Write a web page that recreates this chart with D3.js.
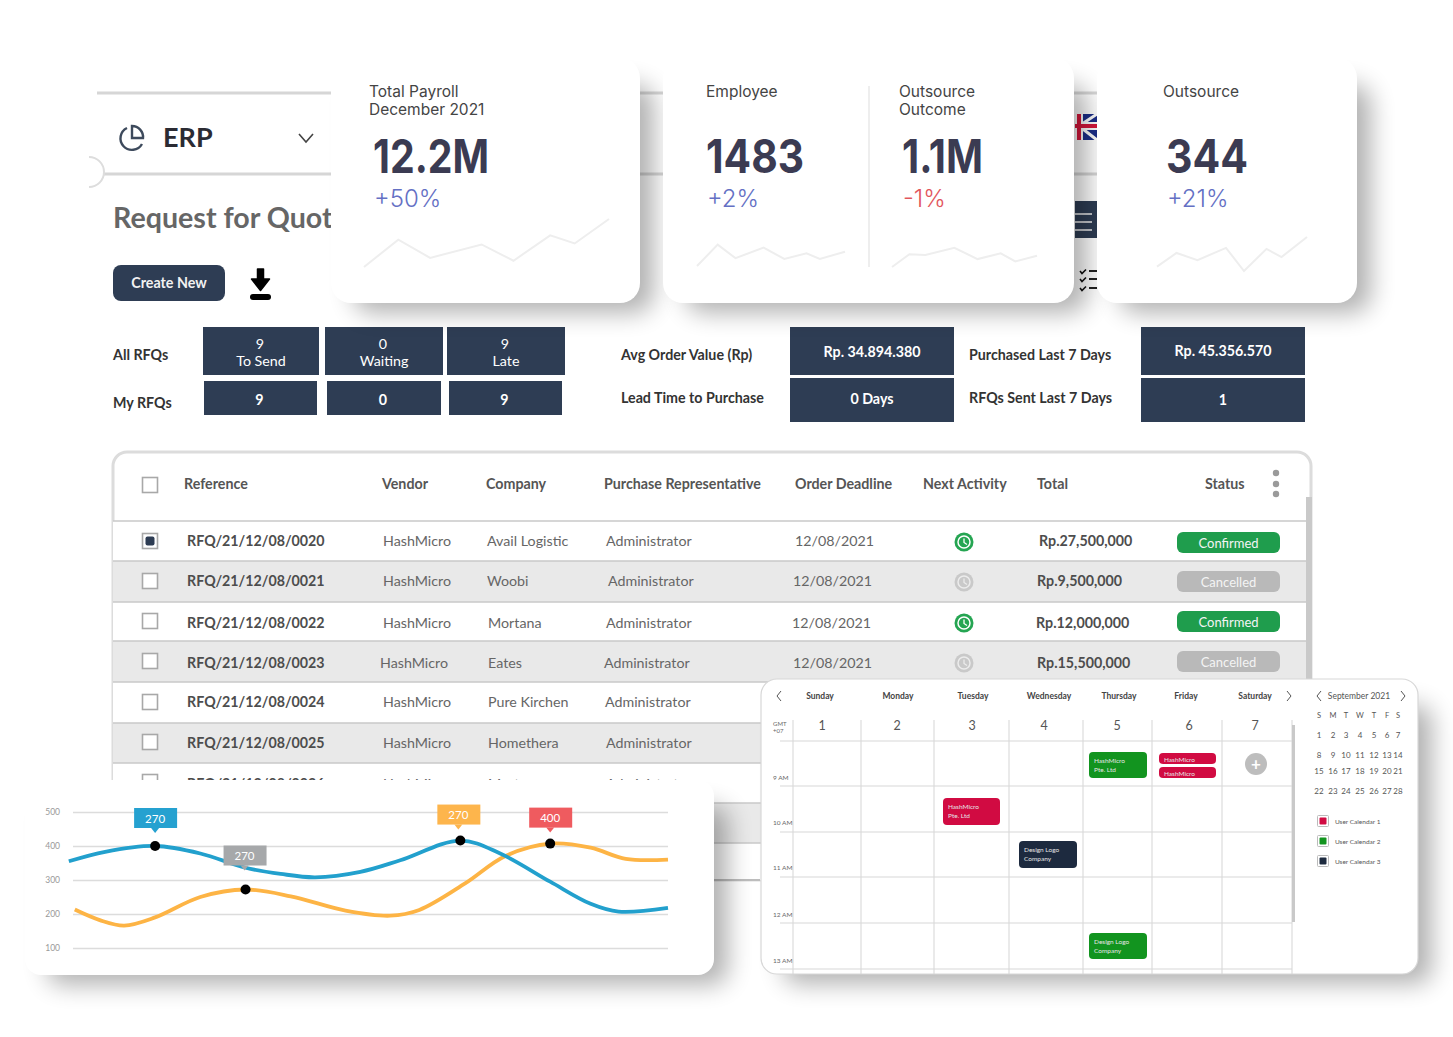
<!DOCTYPE html>
<html><head><meta charset="utf-8">
<script src="https://cdn.jsdelivr.net/npm/d3@7"></script>
<style>html,body{margin:0;padding:0;background:#fff;overflow:hidden}svg{display:block}text{font-family:Lato,sans-serif}.m{font-family:Inter,sans-serif}</style>
</head><body><svg id="c" width="1453" height="1037"></svg>
<script>
// ---------- data ----------
const tableHeaders = ["Reference","Vendor","Company","Purchase Representative","Order Deadline","Next Activity","Total","Status"];
const references = ["RFQ/21/12/08/0020","RFQ/21/12/08/0021","RFQ/21/12/08/0022","RFQ/21/12/08/0023","RFQ/21/12/08/0024","RFQ/21/12/08/0025","RFQ/21/12/08/0026"];
const vendors = ["HashMicro","HashMicro","HashMicro","HashMicro","HashMicro","HashMicro","HashMicro"];
const companies = ["Avail Logistic","Woobi","Mortana","Eates","Pure Kirchen","Homethera","Mortana"];
const reps = ["Administrator","Administrator","Administrator","Administrator","Administrator","Administrator","Administrator"];
const deadlines = ["12/08/2021","12/08/2021","12/08/2021","12/08/2021"];
const totals = ["Rp.27,500,000","Rp.9,500,000","Rp.12,000,000","Rp.15,500,000"];
const statuses = ["Confirmed","Cancelled","Confirmed","Cancelled"];

const yTicks = [100,200,300,400,500];
const blueX = [-0.7,5.4,13.8,21.4,29,34.9,40.7,48.3,55,65.1,71.8,80.2,87,91.7,100];
const blueV = [355,383,400,378,336,318,308,324,358,416,378,295,230,207,218];
const orangeX = [0.3,4.5,8.6,13.8,21.4,29,36.6,45.8,53.3,58.2,65.9,72.6,80.2,87,92.9,100];
const orangeV = [213,182,166,190,250,272,252,210,195,212,290,370,407,395,362,360];
const calloutLabels = ["270","270","270","400"];
const calloutX = [13.8,29,65.1,80.2];
const calloutV = [400,272,416,407];

const sparkValues = [
  [0,57,19,47,13,66,49,100],
  [0,79,29,68,26,47,26,53],
  [0,53,50,80,33,57,23,47],
  [13,53,32,68,0,65,41,100]
];
const sparkSteps = [
  [0,14,27,48,61,76,86,100],
  [0,14,26,45,59,74,83,100],
  [0,12,23,43,59,75,85,100],
  [0,13,27,46,58,73,83,100]
];
const weekdays = ["Sunday","Monday","Tuesday","Wednesday","Thursday","Friday","Saturday"];
const dayNumbers = ["1","2","3","4","5","6","7"];
const hourLabels = ["9 AM","10 AM","11 AM","12 AM","13 AM"];
const miniHead = ["S","M","T","W","T","F","S"];
const miniWeeks = [["1","2","3","4","5","6","7"],["8","9","10","11","12","13","14"],["15","16","17","18","19","20","21"],["22","23","24","25","26","27","28"]];
const legendNames = ["User Calendar 1","User Calendar 2","User Calendar 3"];

// ---------- helpers ----------
const svg = d3.select("#c");
const defs = svg.append("defs");
const f = defs.append("filter").attr("id","blur").attr("x","-30%").attr("y","-30%").attr("width","160%").attr("height","160%");
f.append("feGaussianBlur").attr("stdDeviation",12);
const cl = defs.append("clipPath").attr("id","leftclip");
cl.append("rect").attr("x",85).attr("y",60).attr("width",246).attr("height",250);

const NAVY="#2e3d54", DARK="#3b3b52", BLUE="#6470c4", FS=14.25;
function rect(p,x,y,w,h,fill,rx=0){return p.append("rect").attr("x",x).attr("y",y).attr("width",w).attr("height",h).attr("fill",fill).attr("rx",rx)}
function line(p,x1,y1,x2,y2,c,w=1){return p.append("line").attr("x1",x1).attr("y1",y1).attr("x2",x2).attr("y2",y2).attr("stroke",c).attr("stroke-width",w)}
function text(p,s,x,y,size,fill,weight=400,anchor="start",cls=null){return p.append("text").text(s).attr("x",x).attr("y",y).attr("font-size",size).attr("fill",fill).attr("font-weight",weight).attr("text-anchor",anchor).attr("class",cls)}
function card(p,x,y,w,h,r){
  rect(p,x+22,y+26,w-8,h-16,"#000",r).attr("filter","url(#blur)").attr("opacity",.3);
  return rect(p,x,y,w,h,"#fff",r);
}

// ---------- background app ----------
const bg = svg.append("g");
line(bg,97,93,1097,93,"#d6d6d6",3);
line(bg,97,174,1097,174,"#d6d6d6",3);
bg.append("path").attr("d","M89,157 A15,15 0 0 1 89,187").attr("fill","#fff").attr("stroke","#ddd").attr("stroke-width",2);
const lp = bg.append("g").attr("clip-path","url(#leftclip)");
const pie = lp.append("g").attr("fill","none").attr("stroke","#3d4a5c").attr("stroke-width",2.4);
pie.append("path").attr("d","M127,128 A11.5,11.5 0 1 0 142,144");
pie.append("path").attr("d","M132,126 A11,11 0 0 1 143,138 L132,138 Z");
text(lp,"ERP",163,147,27,"#2b2b33",700);
lp.append("path").attr("d","M299,134 L306,142 L313,134").attr("fill","none").attr("stroke","#444").attr("stroke-width",1.6);
text(lp,"Request for Quot",113,228,28.6,"#666",700);
rect(bg,113,265,112,36,NAVY,8);
text(bg,"Create New",169,288,14.3,"#f2f2f2",700,"middle");
bg.append("path").attr("d","M257.5,269 h6 v10 h6 l-9,11.5 l-9,-11.5 h6 Z").attr("fill","#000").attr("stroke","#000").attr("stroke-width",1.5).attr("stroke-linejoin","round");
rect(bg,250,294,21,6,"#000",3);

// flag + menu + checklist
const fl = bg.append("g");
rect(fl,1075,114,22,26,"#1c2f8a");
fl.append("path").attr("d","M1079,126 L1097,114 M1079,126 L1097,140").attr("stroke","#fff").attr("stroke-width",3);
rect(fl,1075,122,22,8,"#fff");
rect(fl,1075,114,8,26,"#fff");
rect(fl,1075,124,22,4,"#d8173c");
rect(fl,1077,114,4,26,"#d8173c");
rect(bg,1075,201,22,37,NAVY);
[214,222,230].forEach(y=>line(bg,1075,y,1092,y,"#e8e8e8",1.6));
[271,279,288].forEach(y=>{bg.append("path").attr("d",`M1080,${y} l2,2.5 l4,-4`).attr("fill","none").attr("stroke","#111").attr("stroke-width",1.6);line(bg,1089,y,1097,y,"#222",2)});

// KPI blocks
const k = svg.append("g");
text(k,"All RFQs",113,360,FS,"#333",700);
text(k,"My RFQs",113,408,FS,"#333",700);
[[203,327,116,48,"9","To Send"],[325,327,118,48,"0","Waiting"],[447,327,118,48,"9","Late"]].forEach(d=>{
  rect(k,d[0],d[1],d[2],d[3],NAVY);
  text(k,d[4],d[0]+d[2]/2-1,349,FS,"#fff",400,"middle");
  text(k,d[5],d[0]+d[2]/2,366,FS,"#fff",400,"middle");
});
[[204,113,"9"],[327,114,"0"],[449,113,"9"]].forEach(d=>{rect(k,d[0],381,d[1],34,NAVY);text(k,d[2],d[0]+d[1]/2-1,405,FS,"#fff",700,"middle")});
text(k,"Avg Order Value (Rp)",621,360,FS,"#333",700);
text(k,"Lead Time to Purchase",621,403,FS,"#333",700);
text(k,"Purchased Last 7 Days",969,360,FS,"#333",700);
text(k,"RFQs Sent Last 7 Days",969,403,FS,"#333",700);
[[790,327,164,48,"Rp. 34.894.380",357],[790,378,164,44,"0 Days",404],[1141,327,164,48,"Rp. 45.356.570",356],[1141,378,164,44,"1",405]].forEach(d=>{
  rect(k,d[0],d[1],d[2],d[3],NAVY);
  text(k,d[4],d[0]+d[2]/2,d[5],FS,"#fff",700,"middle");
});

// ---------- table ----------
const t = svg.append("g");
rect(t,113,452,1198,428,"#fff",14).attr("stroke","#dcdcdc").attr("stroke-width",3);
const headerX=[184,382,486,604,795,923,1037,1205];
tableHeaders.forEach((h,i)=>text(t,h,headerX[i],489,FS,"#555",700));
function box(y,on){
  rect(t,142.5,y-7.5,15,15,"#fff").attr("stroke","#a8a8a8").attr("stroke-width",1.6);
  if(on) rect(t,145.5,y-4.5,9,9,NAVY,2);
}
box(485,false);
[473,484,494].forEach(y=>t.append("circle").attr("cx",1276).attr("cy",y).attr("r",3.2).attr("fill","#9a9a9a"));
const rowTop=[521,561,602,641,682,723,763,803,843];
rowTop.slice(0,8).forEach((y,i)=>{
  rect(t,113,y,1193,rowTop[i+1]-y,i%2?"#e9e9e9":"#fff");
  line(t,113,y,1306,y,"#c9c9c9",1.5);
});
line(t,113,843,1306,843,"#c9c9c9",1.5);
rect(t,113,844,1193,36,"#fff");
line(t,113,880,760,880,"#bdbdbd",2);
rect(t,1306,497,6,200,"#c9c9c9");
const rowY=[546,586,628,668,707,748,789];
const boxY=[541,581,621,661,702,742,782];
const refX=[187,187,187,187,187,187,187];
const venX=[383,383,383,380,383,383,383];
const comX=[487,487,488,488,488,488,488];
const repX=[606,608,606,604,605,606,606];
const dueX=[795,793,792,793];
const totX=[1039,1037,1036,1037];
const pillY=[532,571,611,651];
const iconY=[542,582,623,663];
references.forEach((r,i)=>{
  box(boxY[i],i===0);
  text(t,r,refX[i],rowY[i],FS,"#4d4d4d",700);
  text(t,vendors[i],venX[i],rowY[i],FS,"#666");
  text(t,companies[i],comX[i],rowY[i],FS,"#666");
  text(t,reps[i],repX[i],rowY[i],FS,"#666");
});
deadlines.forEach((d,i)=>{
  text(t,d,dueX[i],rowY[i],FS,"#666");
  text(t,totals[i],totX[i],rowY[i],FS,"#4d4d4d",700);
  const ok=statuses[i]==="Confirmed", col=ok?"#1f9d4d":"#b9b9b9";
  rect(t,1177,pillY[i],103,21,col,6);
  text(t,statuses[i],1228.5,pillY[i]+15.5,13,"#f4f4f4",400,"middle");
  const c=ok?"#25a552":"#c9c9c9";
  t.append("circle").attr("cx",964).attr("cy",iconY[i]).attr("r",9.5).attr("fill",c);
  t.append("circle").attr("cx",964).attr("cy",iconY[i]).attr("r",6).attr("fill","none").attr("stroke",ok?"#fff":"#ececec").attr("stroke-width",1.5);
  t.append("path").attr("d",`M964,${iconY[i]-3.5} v4 l3,2`).attr("fill","none").attr("stroke",ok?"#fff":"#ececec").attr("stroke-width",1.3);
});

// ---------- stat cards ----------
const spark = svg.append("g");
const cards=[[331,309],[663,411],[1097,260]];
cards.forEach(c=>card(spark,c[0],58,c[1],245,20));
line(spark,869,86,869,267,"#e9e9e9",1.5);
[["Total Payroll",369,97],["December 2021",369,115],["Employee",706,97],["Outsource",899,97],["Outcome",899,115],["Outsource",1163,97]].forEach(d=>text(spark,d[0],d[1],d[2],15.5,"#444",400,"start","m"));
[["12.2M",373,116],["1483",706,98],["1.1M",902,81],["344",1166,82]].forEach(d=>text(spark,d[0],d[1],173,47,DARK,700,"start","m").attr("textLength",d[2]).attr("lengthAdjust","spacingAndGlyphs"));
[["+50%",374,BLUE],["+2%",707,BLUE],["-1%",903,"#e2555c"],["+21%",1167,BLUE]].forEach(d=>text(spark,d[0],d[1],207,24,d[2],300,"start","m"));
const sparkRanges=[[[364,609],[267,219]],[[697,845],[266,239]],[[892,1037],[267,243]],[[1157,1307],[271,237]]];
sparkValues.forEach((v,i)=>{
  const sx=d3.scaleLinear().domain([0,100]).range(sparkRanges[i][0]);
  const sy=d3.scaleLinear().domain([0,100]).range(sparkRanges[i][1]);
  spark.append("path").attr("d",d3.line().x((d,j)=>sx(sparkSteps[i][j])).y(d=>sy(d))(v)).attr("fill","none").attr("stroke","#eeeeee").attr("stroke-width",2);
});

// ---------- line chart ----------
const lc = svg.append("g");
card(lc,25,780,689,195,16);
const x = d3.scaleLinear().domain([0,100]).range([73,668]);
const y = d3.scaleLinear().domain([100,500]).range([948,812]);
const ax = lc.append("g").attr("transform","translate(73,0)").call(d3.axisLeft(y).tickValues(yTicks).tickSize(-595).tickPadding(13));
ax.select(".domain").remove();
ax.selectAll("line").attr("stroke","#dcdcdc").attr("stroke-width",1.3);
ax.selectAll("text").attr("font-size",8.5).attr("fill","#999").attr("font-family","Open Sans");
const ln = d3.line().x(d=>x(d[0])).y(d=>y(d[1])).curve(d3.curveCatmullRom.alpha(0.5));
lc.append("path").attr("d",ln(d3.zip(orangeX,orangeV))).attr("fill","none").attr("stroke","#fdb445").attr("stroke-width",3.8);
lc.append("path").attr("d",ln(d3.zip(blueX,blueV))).attr("fill","none").attr("stroke","#22a0cd").attr("stroke-width",3.8);
const calloutFill=["#25a1d0","#a6a8aa","#fdb54c","#ef5b5f"];
const calloutRise=[38,44,36,36];
calloutLabels.forEach((s,i)=>{
  const cx=x(calloutX[i]), cy=y(calloutV[i]);
  lc.append("circle").attr("cx",cx).attr("cy",cy).attr("r",5).attr("fill","#000");
  const by=cy-calloutRise[i], off=(i===1?-1:(i===2?-2:0));
  rect(lc,cx-21+off,by,43,20,calloutFill[i]);
  lc.append("path").attr("d",`M${cx-4+off},${by+20} h8 l-4,5 Z`).attr("fill",calloutFill[i]);
  text(lc,s,cx+off,by+14.5,11.5,"#fff",400,"middle").attr("font-family","Open Sans");
});

// ---------- calendar ----------
const cal = svg.append("g");
card(cal,761,679,657,295,16).attr("stroke","#d8d8d8").attr("stroke-width",1.2);
const vx=[793,861,934,1009,1083,1152,1222,1292];
const hy=[741,786,832,877,923,969];
vx.forEach(v=>line(cal,v,720,v,974,"#d5d5d5",1));
hy.forEach(h=>line(cal,780,h,1292,h,"#d8d8d8",1.2));
rect(cal,1292,725,3,197,"#c9c9c9");
const wdX=[820,898,973,1049,1119,1186,1255];
const dnX=[822,897,972,1044,1117,1189,1255];
weekdays.forEach((w,i)=>{text(cal,w,wdX[i],699,8.5,"#444",700,"middle");text(cal,dayNumbers[i],dnX[i],730,12.5,"#555",400,"middle")});
cal.append("path").attr("d","M781,691 l-4,5 l4,5 M1287,691 l4,5 l-4,5 M1321,691 l-4,5 l4,5 M1401,691 l4,5 l-4,5").attr("fill","none").attr("stroke","#555").attr("stroke-width",1);
text(cal,"GMT",773,726,6,"#666");text(cal,"+07",773,733,6,"#666");
const hlY=[780,825,870,917,963];
hourLabels.forEach((h,i)=>text(cal,h,773,hlY[i],6.5,"#666"));
const ev=[[1089,752,58,26,"#12941f",["HashMicro","Pte. Ltd"]],[1159,753,57,11,"#d10b42",["HashMicro"]],[1159,767,57,11,"#d10b42",["HashMicro"]],[943,798,57,27,"#d10b42",["HashMicro","Pte. Ltd"]],[1019,841,58,27,"#1d2a3f",["Design Logo","Company"]],[1089,933,58,26,"#12941f",["Design Logo","Company"]]];
ev.forEach(e=>{
  rect(cal,e[0],e[1],e[2],e[3],e[4],4);
  e[5].forEach((s,j)=>text(cal,s,e[0]+5,e[1]+(e[5].length>1?11+8.5*j:8.5),6.5,"#e6e6e6"));
});
cal.append("circle").attr("cx",1256).attr("cy",764).attr("r",11).attr("fill","#bdbdbd");
text(cal,"+",1256,770,17,"#fff",700,"middle");
text(cal,"September 2021",1359,699,8.5,"#555",400,"middle");
const mx=[1319,1333,1346,1360,1374,1387,1398];
miniHead.forEach((s,i)=>text(cal,s,mx[i],718,7.5,"#555",400,"middle"));
const my=[738,758,774,794];
miniWeeks.forEach((w,r)=>w.forEach((s,i)=>text(cal,s,mx[i],my[r],8,"#555",400,"middle")));
["#d10b42","#12941f","#1d2a3f"].forEach((c,i)=>{
  const yy=[821,841,861][i];
  rect(cal,1317.5,yy-5.5,11,11,"#fff",1).attr("stroke","#bbb").attr("stroke-width",1);
  rect(cal,1319.5,yy-3.5,7,7,c,1);
  text(cal,legendNames[i],1335,yy+2.5,6.5,"#555");
});
</script></body></html>
